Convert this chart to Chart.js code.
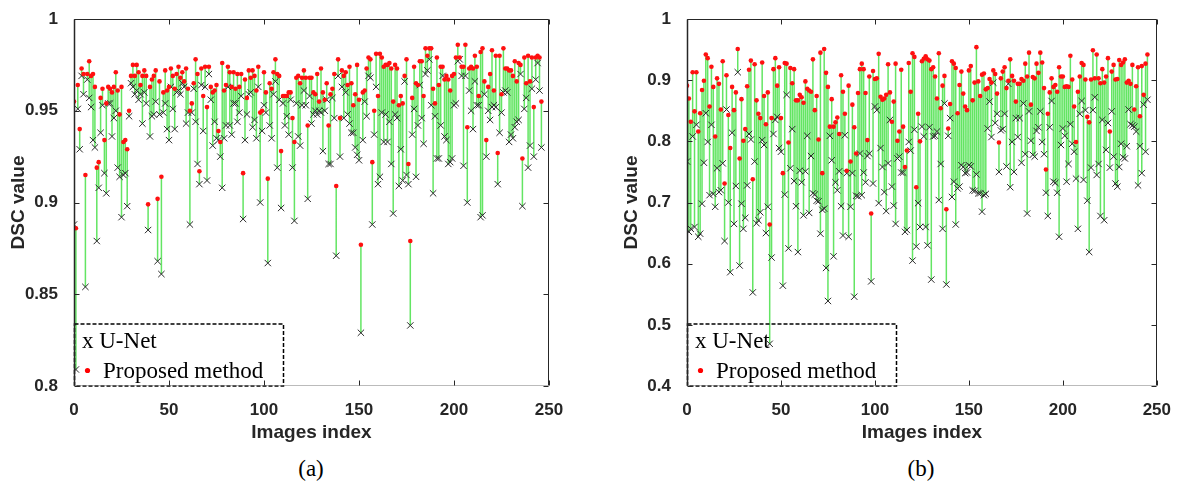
<!DOCTYPE html>
<html>
<head>
<meta charset="utf-8">
<title>DSC per image</title>
<script src="https://cdn.jsdelivr.net/npm/chart.js@4.4.1/dist/chart.umd.min.js"></script>
<style>
  html, body { margin: 0; padding: 0; background: #fff; overflow: hidden; }
  body { width: 1177px; height: 497px; position: relative; }
  .panel { position: absolute; top: 0; height: 445px; }
  #wrapA { left: 0; width: 590px; }
  #wrapB { left: 613px; width: 564px; }
  .caption {
    position: absolute; top: 456px; transform: translateX(-50%);
    font-family: 'Liberation Serif', 'Times New Roman', serif; font-size: 23px; color: #000;
  }
</style>
</head>
<body>
<div class="panel" id="wrapA"><canvas id="chartA" width="590" height="445"></canvas></div>
<div class="panel" id="wrapB"><canvas id="chartB" width="564" height="445"></canvas></div>
<div class="caption" style="left:311px">(a)</div>
<div class="caption" style="left:921px">(b)</div>

<script>
// ---- data ----
const xTicks = [0, 50, 100, 150, 200, 250];
const yTicksA = [0.8, 0.85, 0.9, 0.95, 1];
const yTicksB = [0.4, 0.5, 0.6, 0.7, 0.8, 0.9, 1];

// panel (a): DSC per image, U-Net vs proposed
const unetA = [
  0.888, 0.809, 0.951, 0.929, 0.969, 0.959, 0.854, 0.967, 0.957, 0.952,
  0.934, 0.930, 0.879, 0.908, 0.938, 0.953, 0.916, 0.905, 0.954, 0.954,
  0.936, 0.946, 0.950, 0.919, 0.914, 0.892, 0.915, 0.916, 0.898, 0.947,
  0.965, 0.963, 0.959, 0.961, 0.956, 0.959, 0.943, 0.960, 0.954, 0.885,
  0.936, 0.947, 0.948, 0.955, 0.868, 0.948, 0.861, 0.949, 0.954, 0.940,
  0.934, 0.963, 0.951, 0.940, 0.960, 0.961, 0.959, 0.965, 0.963, 0.943,
  0.949, 0.888, 0.949, 0.962, 0.944, 0.921, 0.910, 0.964, 0.939, 0.963,
  0.912, 0.970, 0.956, 0.931, 0.944, 0.935, 0.934, 0.925, 0.908, 0.935,
  0.942, 0.963, 0.942, 0.937, 0.954, 0.954, 0.944, 0.949, 0.958, 0.891,
  0.934, 0.948, 0.959, 0.960, 0.941, 0.945, 0.935, 0.963, 0.900, 0.939,
  0.953, 0.949, 0.867, 0.942, 0.935, 0.959, 0.966, 0.919, 0.956, 0.897,
  0.954, 0.942, 0.947, 0.937, 0.956, 0.919, 0.890, 0.954, 0.936, 0.931,
  0.953, 0.961, 0.953, 0.902, 0.958, 0.943, 0.948, 0.950, 0.948, 0.950,
  0.949, 0.928, 0.950, 0.956, 0.921, 0.921, 0.957, 0.946, 0.871, 0.969,
  0.925, 0.963, 0.946, 0.960, 0.948, 0.943, 0.938, 0.938, 0.930, 0.926,
  0.923, 0.829, 0.934, 0.955, 0.947, 0.969, 0.968, 0.888, 0.937, 0.963,
  0.910, 0.914, 0.949, 0.933, 0.948, 0.933, 0.944, 0.921, 0.894, 0.948,
  0.946, 0.909, 0.929, 0.912, 0.966, 0.915, 0.910, 0.833, 0.937, 0.951,
  0.914, 0.942, 0.964, 0.946, 0.932, 0.970, 0.972, 0.978, 0.953, 0.905,
  0.947, 0.924, 0.924, 0.942, 0.969, 0.936, 0.934, 0.921, 0.922, 0.924,
  0.953, 0.954, 0.977, 0.978, 0.969, 0.920, 0.969, 0.900, 0.961, 0.950,
  0.940, 0.966, 0.953, 0.953, 0.892, 0.893, 0.959, 0.925, 0.950, 0.945,
  0.952, 0.953, 0.952, 0.910, 0.938, 0.949, 0.960, 0.961, 0.960, 0.933,
  0.937, 0.935, 0.941, 0.944, 0.945, 0.970, 0.898, 0.951, 0.957, 0.919,
  0.931, 0.962, 0.925, 0.967, 0.976, 0.961, 0.930
];
const proposedA = [
  0.955, 0.886, 0.964, 0.940, 0.973, 0.970, 0.915, 0.970, 0.977, 0.969,
  0.970, 0.963, 0.919, 0.922, 0.957, 0.962, 0.934, 0.954, 0.963, 0.962,
  0.960, 0.963, 0.971, 0.961, 0.948, 0.963, 0.933, 0.934, 0.929, 0.950,
  0.969, 0.975, 0.969, 0.975, 0.971, 0.964, 0.969, 0.972, 0.969, 0.899,
  0.963, 0.967, 0.969, 0.972, 0.902, 0.966, 0.914, 0.960, 0.972, 0.961,
  0.963, 0.973, 0.969, 0.962, 0.970, 0.974, 0.968, 0.971, 0.966, 0.973,
  0.962, 0.950, 0.954, 0.965, 0.978, 0.970, 0.917, 0.973, 0.958, 0.974,
  0.952, 0.974, 0.963, 0.960, 0.961, 0.964, 0.939, 0.933, 0.976, 0.961,
  0.964, 0.974, 0.971, 0.963, 0.971, 0.962, 0.970, 0.963, 0.970, 0.916,
  0.967, 0.957, 0.972, 0.968, 0.972, 0.969, 0.961, 0.974, 0.949, 0.950,
  0.971, 0.960, 0.913, 0.965, 0.962, 0.971, 0.978, 0.970, 0.969, 0.928,
  0.958, 0.958, 0.958, 0.960, 0.960, 0.946, 0.933, 0.968, 0.969, 0.965,
  0.968, 0.972, 0.968, 0.942, 0.968, 0.968, 0.960, 0.959, 0.970, 0.955,
  0.973, 0.960, 0.956, 0.965, 0.942, 0.959, 0.962, 0.970, 0.909, 0.978,
  0.946, 0.972, 0.969, 0.971, 0.964, 0.974, 0.965, 0.953, 0.959, 0.975,
  0.956, 0.877, 0.960, 0.961, 0.973, 0.979, 0.978, 0.922, 0.950, 0.981,
  0.958, 0.981, 0.979, 0.974, 0.975, 0.975, 0.976, 0.973, 0.955, 0.975,
  0.973, 0.953, 0.958, 0.954, 0.969, 0.978, 0.921, 0.879, 0.957, 0.974,
  0.965, 0.964, 0.977, 0.977, 0.958, 0.984, 0.980, 0.984, 0.984, 0.962,
  0.954, 0.979, 0.964, 0.974, 0.974, 0.967, 0.969, 0.967, 0.961, 0.969,
  0.970, 0.979, 0.986, 0.979, 0.974, 0.974, 0.986, 0.941, 0.973, 0.974,
  0.973, 0.980, 0.974, 0.958, 0.982, 0.984, 0.966, 0.934, 0.963, 0.970,
  0.983, 0.961, 0.980, 0.927, 0.980, 0.959, 0.984, 0.973, 0.973, 0.972,
  0.972, 0.969, 0.977, 0.966, 0.976, 0.975, 0.924, 0.979, 0.965, 0.980,
  0.966, 0.979, 0.952, 0.979, 0.980, 0.979, 0.955
];

// panel (b)
const unetB = [
  0.767, 0.652, 0.657, 0.808, 0.660, 0.827, 0.644, 0.649, 0.698, 0.765,
  0.846, 0.799, 0.712, 0.827, 0.714, 0.693, 0.756, 0.717, 0.720, 0.764,
  0.637, 0.852, 0.700, 0.586, 0.814, 0.665, 0.727, 0.913, 0.597, 0.698,
  0.657, 0.675, 0.728, 0.812, 0.803, 0.553, 0.767, 0.666, 0.671, 0.684,
  0.802, 0.794, 0.650, 0.693, 0.469, 0.610, 0.812, 0.835, 0.840, 0.789,
  0.783, 0.564, 0.713, 0.876, 0.625, 0.756, 0.820, 0.735, 0.694, 0.619,
  0.752, 0.733, 0.679, 0.751, 0.809, 0.683, 0.776, 0.715, 0.713, 0.703,
  0.702, 0.649, 0.688, 0.690, 0.593, 0.539, 0.809, 0.769, 0.612, 0.733,
  0.720, 0.751, 0.694, 0.646, 0.810, 0.748, 0.644, 0.693, 0.748, 0.546,
  0.711, 0.710, 0.780, 0.712, 0.749, 0.733, 0.776, 0.780, 0.571, 0.731,
  0.857, 0.851, 0.699, 0.789, 0.758, 0.717, 0.686, 0.764, 0.835, 0.726,
  0.695, 0.665, 0.772, 0.775, 0.749, 0.749, 0.652, 0.655, 0.799, 0.785,
  0.605, 0.819, 0.628, 0.699, 0.660, 0.824, 0.808, 0.660, 0.630, 0.823,
  0.574, 0.808, 0.809, 0.816, 0.704, 0.763, 0.657, 0.862, 0.566, 0.809,
  0.838, 0.709, 0.734, 0.664, 0.723, 0.726, 0.761, 0.758, 0.748, 0.749,
  0.761, 0.759, 0.720, 0.719, 0.746, 0.715, 0.715, 0.685, 0.712, 0.714,
  0.821, 0.865, 0.807, 0.896, 0.830, 0.845, 0.750, 0.818, 0.820, 0.845,
  0.759, 0.894, 0.725, 0.799, 0.750, 0.838, 0.807, 0.838, 0.765, 0.862,
  0.779, 0.682, 0.849, 0.801, 0.778, 0.775, 0.817, 0.823, 0.849, 0.799,
  0.779, 0.716, 0.678, 0.823, 0.866, 0.734, 0.732, 0.716, 0.644, 0.794,
  0.821, 0.809, 0.734, 0.763, 0.828, 0.796, 0.783, 0.739, 0.657, 0.845,
  0.866, 0.737, 0.851, 0.703, 0.619, 0.757, 0.851, 0.872, 0.745, 0.763,
  0.678, 0.835, 0.671, 0.786, 0.830, 0.757, 0.849, 0.775, 0.731, 0.726,
  0.758, 0.796, 0.774, 0.772, 0.792, 0.852, 0.828, 0.826, 0.824, 0.816,
  0.728, 0.792, 0.748, 0.860, 0.783, 0.868
];
const proposedB = [
  0.891, 0.870, 0.832, 0.913, 0.849, 0.913, 0.816, 0.846, 0.884, 0.899,
  0.942, 0.936, 0.857, 0.922, 0.889, 0.808, 0.903, 0.894, 0.852, 0.931,
  0.731, 0.908, 0.843, 0.789, 0.889, 0.851, 0.880, 0.951, 0.772, 0.869,
  0.801, 0.820, 0.890, 0.917, 0.932, 0.738, 0.926, 0.867, 0.845, 0.838,
  0.929, 0.874, 0.828, 0.880, 0.664, 0.838, 0.918, 0.936, 0.891, 0.921,
  0.838, 0.748, 0.928, 0.927, 0.798, 0.920, 0.895, 0.918, 0.867, 0.867,
  0.876, 0.872, 0.863, 0.898, 0.886, 0.883, 0.881, 0.934, 0.851, 0.874,
  0.803, 0.945, 0.748, 0.951, 0.912, 0.889, 0.824, 0.869, 0.824, 0.831,
  0.839, 0.812, 0.908, 0.881, 0.845, 0.752, 0.891, 0.767, 0.860, 0.823,
  0.780, 0.879, 0.918, 0.927, 0.918, 0.879, 0.802, 0.906, 0.682, 0.915,
  0.902, 0.903, 0.943, 0.873, 0.868, 0.870, 0.876, 0.926, 0.880, 0.832,
  0.865, 0.927, 0.801, 0.816, 0.917, 0.824, 0.758, 0.785, 0.928, 0.881,
  0.944, 0.938, 0.725, 0.845, 0.800, 0.931, 0.935, 0.939, 0.934, 0.932,
  0.918, 0.921, 0.906, 0.870, 0.944, 0.854, 0.891, 0.907, 0.689, 0.821,
  0.861, 0.931, 0.927, 0.920, 0.846, 0.892, 0.914, 0.878, 0.857, 0.851,
  0.916, 0.923, 0.867, 0.896, 0.954, 0.898, 0.874, 0.909, 0.911, 0.885,
  0.887, 0.902, 0.896, 0.916, 0.910, 0.878, 0.798, 0.903, 0.914, 0.921,
  0.887, 0.899, 0.934, 0.907, 0.899, 0.865, 0.894, 0.894, 0.902, 0.899,
  0.927, 0.906, 0.945, 0.860, 0.905, 0.903, 0.927, 0.912, 0.945, 0.929,
  0.887, 0.754, 0.845, 0.880, 0.903, 0.889, 0.892, 0.881, 0.921, 0.906,
  0.906, 0.889, 0.890, 0.889, 0.940, 0.901, 0.857, 0.799, 0.881, 0.906,
  0.928, 0.925, 0.901, 0.840, 0.831, 0.901, 0.949, 0.903, 0.942, 0.903,
  0.895, 0.918, 0.896, 0.906, 0.936, 0.816, 0.914, 0.925, 0.901, 0.902,
  0.933, 0.925, 0.929, 0.934, 0.896, 0.899, 0.894, 0.925, 0.852, 0.890,
  0.921, 0.841, 0.923, 0.876, 0.927, 0.942
];

// ---- styles ----
const axisColor = '#262626';
const tickFont = { family: "'Liberation Sans', Arial, sans-serif", weight: 'bold', size: 17 };
const titleFont = { family: "'Liberation Sans', Arial, sans-serif", weight: 'bold', size: 19 };
const legendFont = "23px 'Liberation Serif', 'Times New Roman', serif";

// box around the plot with inward ticks, like a matlab axes
const framePlugin = {
  id: 'frame',
  afterDatasetsDraw(chart) {
    const { ctx, chartArea: a, scales: { x, y } } = chart;
    const L = a.left + 0.5, R = Math.round(a.right) - 0.5, T = a.top + 0.5, B = Math.round(a.bottom) - 0.5;
    const seg = (x1, y1, x2, y2) => { ctx.beginPath(); ctx.moveTo(x1, y1); ctx.lineTo(x2, y2); ctx.stroke(); };
    ctx.save();
    ctx.lineWidth = 1;
    ctx.strokeStyle = axisColor;
    seg(L, T, R, T);
    seg(R, T, R, B);
    ctx.lineWidth = 1.5;
    seg(L, T, L, B);
    ctx.lineWidth = 1;
    ctx.strokeStyle = '#777';
    ctx.setLineDash([1, 1]);
    seg(L, B, R, B);
    ctx.setLineDash([]);
    ctx.strokeStyle = axisColor;
    const len = 5;
    x.ticks.forEach(t => {
      const px = Math.round(x.getPixelForValue(t.value)) + 0.5;
      seg(px, T, px, T + len);
      seg(px, B, px, B - len);
    });
    y.ticks.forEach(t => {
      const py = Math.round(y.getPixelForValue(t.value)) + 0.5;
      seg(L, py, L + len, py);
      seg(R, py, R - len, py);
    });
    ctx.restore();
  }
};

// dashed legend box in the lower left corner
const legendPlugin = {
  id: 'boxLegend',
  afterDatasetsDraw(chart) {
    const { ctx, chartArea: a } = chart;
    const left = a.left, bottom = a.bottom;
    ctx.save();
    ctx.strokeStyle = '#000';
    ctx.lineWidth = 1.5;
    ctx.setLineDash([4, 2]);
    ctx.strokeRect(left + 0.5, bottom - 62, 209, 62);
    ctx.setLineDash([]);
    ctx.fillStyle = '#000';
    ctx.font = legendFont;
    ctx.textBaseline = 'alphabetic';
    ctx.fillText('x U-Net', left + 8, bottom - 38);
    ctx.fillText('Proposed method', left + 29, bottom - 8);
    ctx.fillStyle = '#ff0000';
    ctx.beginPath();
    ctx.arc(left + 13.5, bottom - 15.5, 2.6, 0, Math.PI * 2);
    ctx.fill();
    ctx.restore();
  }
};

function stemPoints(lo, hi) {
  const pts = [];
  lo.forEach((v, i) => {
    pts.push({ x: i, y: v }, { x: i, y: hi[i] }, { x: i, y: null });
  });
  return pts;
}

function makeChart(id, unet, proposed, yTicks, padRight) {
  const yMin = yTicks[0], yMax = yTicks[yTicks.length - 1];
  return new Chart(document.getElementById(id), {
    type: 'scatter',
    data: {
      datasets: [
        {
          label: 'Proposed method',
          data: proposed.map((v, i) => ({ x: i, y: v })),
          pointStyle: 'circle',
          pointRadius: 2.3,
          pointBackgroundColor: '#ff1010',
          pointBorderWidth: 0,
          order: 1
        },
        {
          label: 'U-Net',
          data: unet.map((v, i) => ({ x: i, y: v })),
          pointStyle: 'crossRot',
          pointRadius: 4.5,
          pointBorderColor: '#2a2a2a',
          pointBorderWidth: 1,
          order: 2
        },
        {
          label: 'stem',
          data: stemPoints(unet, proposed),
          showLine: true,
          spanGaps: false,
          borderColor: 'rgba(60, 222, 60, 0.8)',
          borderWidth: 1.5,
          pointRadius: 0,
          order: 3
        }
      ]
    },
    options: {
      responsive: false,
      animation: false,
      events: [],
      layout: { padding: { left: 0, top: 19, right: padRight, bottom: 0 } },
      plugins: { legend: { display: false }, tooltip: { enabled: false } },
      scales: {
        x: {
          type: 'linear',
          min: 0,
          max: 250,
          afterBuildTicks: s => { s.ticks = xTicks.map(v => ({ value: v })); },
          afterFit: s => { s.height = 59; },
          grid: { display: false },
          border: { display: false },
          ticks: { font: tickFont, color: axisColor, padding: 6, maxRotation: 0 },
          title: { display: true, text: 'Images index', font: titleFont, color: axisColor, padding: { top: 0, bottom: 1 } }
        },
        y: {
          type: 'linear',
          min: yMin,
          max: yMax,
          afterBuildTicks: s => { s.ticks = yTicks.map(v => ({ value: v })); },
          afterFit: s => { s.width = 74; },
          grid: { display: false },
          border: { display: false },
          ticks: { font: tickFont, color: axisColor, padding: 8, callback: v => String(v) },
          title: { display: true, text: 'DSC value', font: titleFont, color: axisColor, padding: { top: 7, bottom: 0 } }
        }
      }
    },
    plugins: [legendPlugin, framePlugin]
  });
}

makeChart('chartA', unetA, proposedA, yTicksA, 41);
makeChart('chartB', unetB, proposedB, yTicksB, 15);
</script>
</body>
</html>
